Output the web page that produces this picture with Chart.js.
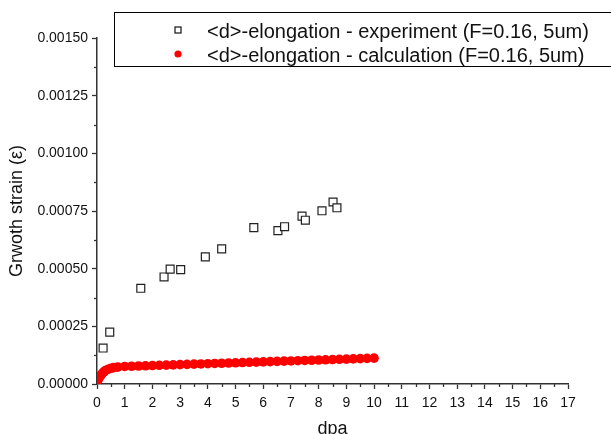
<!DOCTYPE html>
<html lang="en">
<head>
  <meta charset="UTF-8" />
  <title>Growth strain vs dpa</title>
  <script src="https://cdn.jsdelivr.net/npm/chart.js"></script>
  <style>
    html, body { margin: 0; padding: 0; background: #fff; }
    #wrap { width: 611px; height: 434px; }
  </style>
</head>
<body>
  <div id="wrap"><canvas id="strainChart" width="611" height="434"></canvas></div>

  <script>
    // experiment: <d>-elongation (F=0.16, 5um)
    const expX = [0.22, 0.46, 1.58, 2.42, 2.64, 3.02, 3.91, 4.50, 5.66, 6.53, 6.77, 7.40, 7.52, 8.12, 8.52, 8.66];
    const expY = [0.000156, 0.000225, 0.000415, 0.000464, 0.000498, 0.000496, 0.000551, 0.000586,
                  0.000678, 0.000665, 0.000682, 0.000728, 0.000710, 0.000751, 0.000789, 0.000764];

    // calculation: <d>-elongation (F=0.16, 5um)
    const calcX = [0, 0.05, 0.1, 0.15, 0.2, 0.25, 0.3, 0.4, 0.5, 0.6, 0.75,
                   1.0, 1.25, 1.5, 1.75, 2.0, 2.25, 2.5, 2.75, 3.0, 3.25, 3.5, 3.75,
                   4.0, 4.25, 4.5, 4.75, 5.0, 5.25, 5.5, 5.75, 6.0, 6.25, 6.5, 6.75,
                   7.0, 7.25, 7.5, 7.75, 8.0, 8.25, 8.5, 8.75, 9.0, 9.25, 9.5, 9.75, 10.0];
    const calcY = [0.000005, 0.000020, 0.000031, 0.000040, 0.000047, 0.000053, 0.000058, 0.000064, 0.000068, 0.000071, 0.000073,
                   0.000076, 0.000077, 0.000078, 0.000079, 0.000080, 0.000081, 0.000082, 0.000083, 0.000084, 0.000085, 0.000086, 0.000087,
                   0.000088, 0.000089, 0.000090, 0.000091, 0.000092, 0.000093, 0.000094, 0.000095, 0.000096, 0.000097, 0.000098, 0.000099,
                   0.000100, 0.000101, 0.000102, 0.000103, 0.000104, 0.000105, 0.000106, 0.000107, 0.000108, 0.000109, 0.000110, 0.000111, 0.000112];

    const seriesNames = [
      '<d>-elongation - experiment (F=0.16, 5um)',
      '<d>-elongation - calculation (F=0.16, 5um)'
    ];

    const FONT = '"Liberation Sans", Arial, sans-serif';
    const AXIS_COLOR = '#333';

    const toPoints = (xs, ys) => xs.map((x, i) => ({ x: x, y: ys[i] }));
    const isMinorY = v => Math.round(v / 0.000125) % 2 !== 0;
    const isMinorX = v => Math.round(v * 2) % 2 !== 0;

    // minor ticks are shorter, drawn by hand
    const minorTicks = {
      id: 'minorTicks',
      afterDraw(chart) {
        const ctx = chart.ctx;
        const xs = chart.scales.x, ys = chart.scales.y;
        ctx.save();
        ctx.strokeStyle = AXIS_COLOR;
        ctx.lineWidth = 1.3;
        ys.ticks.forEach(t => {
          if (!isMinorY(t.value)) return;
          const py = Math.round(ys.getPixelForValue(t.value)) + 0.5;
          ctx.beginPath();
          ctx.moveTo(chart.chartArea.left - 3, py);
          ctx.lineTo(chart.chartArea.left, py);
          ctx.stroke();
        });
        xs.ticks.forEach(t => {
          if (!isMinorX(t.value)) return;
          const px = Math.round(xs.getPixelForValue(t.value)) + 0.5;
          ctx.beginPath();
          ctx.moveTo(px, chart.chartArea.bottom);
          ctx.lineTo(px, chart.chartArea.bottom + 3);
          ctx.stroke();
        });
        ctx.restore();
      }
    };

    // boxed legend in the top right corner
    const boxLegend = {
      id: 'boxLegend',
      afterDraw(chart) {
        const ctx = chart.ctx;
        ctx.save();
        ctx.fillStyle = '#fff';
        ctx.fillRect(114, 12, 510, 55);
        ctx.strokeStyle = '#000';
        ctx.lineWidth = 1;
        ctx.strokeRect(114.5, 12.5, 510, 54);

        // square marker
        ctx.strokeStyle = '#111';
        ctx.lineWidth = 1.2;
        ctx.strokeRect(175, 27, 6, 6);
        // red dot marker
        ctx.fillStyle = '#ff0000';
        ctx.beginPath();
        ctx.arc(178, 54, 3.6, 0, Math.PI * 2);
        ctx.fill();

        ctx.fillStyle = '#111';
        ctx.font = '20px ' + FONT;
        ctx.textBaseline = 'alphabetic';
        ctx.textAlign = 'left';
        ctx.fillText(seriesNames[0], 207, 37.5);
        ctx.fillText(seriesNames[1], 207, 61.5);
        ctx.restore();
      }
    };

    new Chart(document.getElementById('strainChart').getContext('2d'), {
      type: 'scatter',
      data: {
        datasets: [
          {
            label: seriesNames[0],
            data: toPoints(expX, expY),
            pointStyle: 'rect',
            pointRadius: 5.6,
            pointHoverRadius: 5.6,
            pointBorderWidth: 1.2,
            borderColor: '#222',
            backgroundColor: '#fff',
            order: 1
          },
          {
            label: seriesNames[1],
            data: toPoints(calcX, calcY),
            pointStyle: 'circle',
            pointRadius: 4.8,
            pointHoverRadius: 4.8,
            pointBorderWidth: 0,
            borderColor: '#ff0000',
            backgroundColor: '#ff0000',
            order: 2
          }
        ]
      },
      options: {
        responsive: false,
        animation: false,
        events: [],
        layout: { padding: { top: 38, right: 43, left: 0, bottom: 0 } },
        plugins: {
          legend: { display: false },
          tooltip: { enabled: false }
        },
        scales: {
          x: {
            type: 'linear',
            min: 0,
            max: 17,
            afterFit: s => { s.height = 50; },
            border: { display: true, color: AXIS_COLOR, width: 1.5 },
            grid: {
              drawOnChartArea: false,
              drawTicks: true,
              tickLength: 5,
              tickWidth: 1.3,
              tickColor: c => (c.tick && isMinorX(c.tick.value)) ? 'rgba(0,0,0,0)' : AXIS_COLOR
            },
            ticks: {
              stepSize: 0.5,
              autoSkip: false,
              maxRotation: 0,
              padding: 6,
              color: '#111',
              font: { family: FONT, size: 14 },
              callback: v => isMinorX(v) ? '' : String(Math.round(v))
            },
            title: {
              display: true,
              text: 'dpa',
              color: '#111',
              font: { family: FONT, size: 18 },
              padding: { top: 4, bottom: -6 }
            }
          },
          y: {
            type: 'linear',
            min: 0,
            max: 0.0015,
            afterFit: s => { s.width = 97; },
            border: { display: true, color: AXIS_COLOR, width: 1.5 },
            grid: {
              drawOnChartArea: false,
              drawTicks: true,
              tickLength: 5,
              tickWidth: 1.3,
              tickColor: c => (c.tick && isMinorY(c.tick.value)) ? 'rgba(0,0,0,0)' : AXIS_COLOR
            },
            ticks: {
              stepSize: 0.000125,
              autoSkip: false,
              padding: 4,
              color: '#111',
              font: { family: FONT, size: 14 },
              callback: v => isMinorY(v) ? '' : v.toFixed(5)
            },
            title: {
              display: true,
              text: 'Grwoth strain (\u03b5)',
              color: '#111',
              font: { family: FONT, size: 18 },
              padding: { top: 6, bottom: 0 }
            }
          }
        }
      },
      plugins: [minorTicks, boxLegend]
    });
  </script>
</body>
</html>
